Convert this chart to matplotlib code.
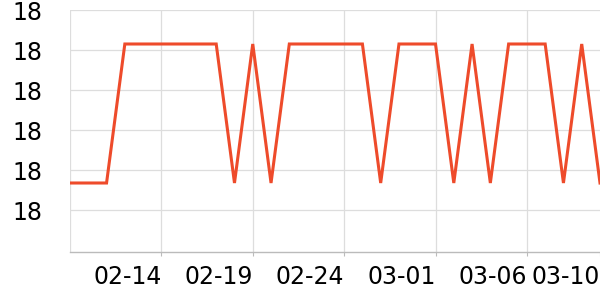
import matplotlib
matplotlib.use("Agg")
import matplotlib.pyplot as plt
from matplotlib.ticker import FuncFormatter, FixedLocator
import numpy as np

dates = ["02-09","02-10","02-11","02-12","02-13","02-14","02-15","02-16","02-17","02-18",
         "02-19","02-20","02-21","02-22","02-23","02-24","02-25","02-26","02-27","02-28",
         "03-01","03-02","03-03","03-04","03-05","03-06","03-07","03-08","03-09","03-10"]
L, H = 18.0135, 18.083
values = [L, L, L, H, H, H, H, H, H, L,
          H, L, H, H, H, H, H, L, H, H,
          H, L, H, L, H, H, H, L, H, L]
tick_labels = ["02-14", "02-19", "02-24", "03-01", "03-06", "03-10"]
y_ticks = [18.00, 18.02, 18.04, 18.06, 18.08, 18.10]

fig = plt.figure(figsize=(6, 3), dpi=100)
ax = fig.add_axes([70/600, 48/300, 530/600, 242/300])
x = np.arange(len(dates))
ax.plot(x, values, color="#ee4b2b", lw=2.2, solid_joinstyle="miter", clip_on=True)

ax.set_xlim(0, len(dates) - 1)
ax.set_ylim(17.979, 18.10)

ax.xaxis.set_major_locator(FixedLocator([dates.index(t) for t in tick_labels]))
ax.set_xticklabels(tick_labels, ha="right")
for gx in [0, 5, 10, 15, 20, 25]:
    ax.axvline(gx, color="#dddddd", lw=0.9, zorder=0)
ax.set_yticks(y_ticks)
ax.yaxis.set_major_formatter(FuncFormatter(lambda v, p: f"{v:.0f}"))
for gy in y_ticks:
    ax.axhline(gy, color="#dddddd", lw=0.9, zorder=0)

for s in ["top", "right", "left"]:
    ax.spines[s].set_visible(False)
ax.spines["bottom"].set_color("#bbbbbb")
ax.spines["bottom"].set_linewidth(1.0)
ax.tick_params(axis="x", length=3, color="#bbbbbb", labelsize=17, pad=6)
ax.tick_params(axis="y", length=0, labelsize=17, pad=20)

fig.savefig("out.png", dpi=100)
